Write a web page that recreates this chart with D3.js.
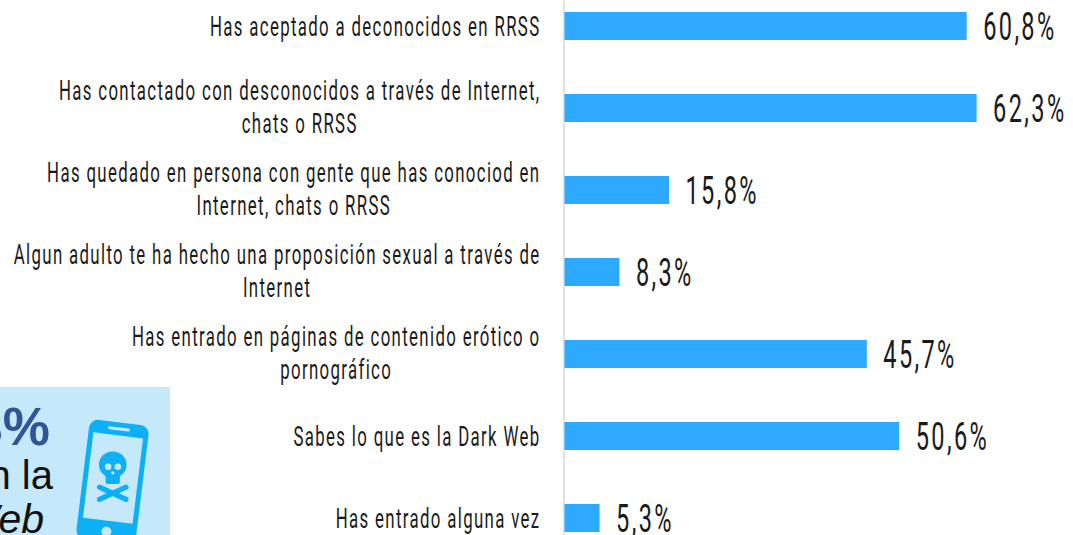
<!DOCTYPE html>
<html><head><meta charset="utf-8">
<style>html,body{margin:0;padding:0;background:#fff;overflow:hidden}svg{display:block}</style>
<script src="https://cdn.jsdelivr.net/npm/d3@7"></script></head>
<body><svg id="c" width="1073" height="535"></svg>
<script>
const categories = ["Has aceptado a deconocidos en RRSS",
 "Has contactado con desconocidos a través de Internet,|chats o RRSS",
 "Has quedado en persona con gente que has conociod en|Internet, chats o RRSS",
 "Algun adulto te ha hecho una proposición sexual a través de|Internet",
 "Has entrado en páginas de contenido erótico o|pornográfico",
 "Sabes lo que es la Dark Web",
 "Has entrado alguna vez"];
const values = [60.8,62.3,15.8,8.3,45.7,50.6,5.3];
const insetLines = ["5,3%","entró en la","Dark Web"];

const W=1073,H=535;
const svg=d3.select("#c");
const x=d3.scaleLinear().domain([0,100]).range([564.5,1226]);
const y=d3.scaleBand().domain(categories).range([-15,559]).paddingInner(54/82).paddingOuter(27/82);
const fmt=v=>v.toFixed(1).replace(".",",")+"%";
const FONT="Roboto, sans-serif";

// inset
const inset=svg.append("g");
inset.append("rect").attr("x",0).attr("y",387).attr("width",170).attr("height",150).attr("fill","#c5e9fb");
inset.append("text").attr("x",50).attr("y",445).attr("text-anchor","end").attr("font-family","Liberation Sans").attr("font-weight",700).attr("font-size",53).attr("fill","#2f5597").text(insetLines[0]);
inset.append("text").attr("x",53).attr("y",489).attr("text-anchor","end").attr("font-family","Liberation Sans").attr("font-size",40).attr("fill","#111").text(insetLines[1]);
inset.append("text").attr("x",44).attr("y",533).attr("text-anchor","end").attr("font-family","Liberation Sans").attr("font-style","italic").attr("font-size",41).attr("fill","#111").text(insetLines[2]);
// phone icon
const ph=inset.append("g").attr("transform","translate(112.5,482) rotate(7)");
ph.append("rect").attr("x",-30).attr("y",-60).attr("width",60).attr("height",120).attr("rx",9).attr("fill","#0db0f5");
ph.append("rect").attr("x",-25).attr("y",-47).attr("width",50).attr("height",86).attr("fill","#c5e9fb");
ph.append("rect").attr("x",-11).attr("y",-55).attr("width",22).attr("height",3).attr("rx",1.5).attr("fill","#c5e9fb");
ph.append("circle").attr("cx",0).attr("cy",50).attr("r",5).attr("fill","#c5e9fb");
const sk=ph.append("g").attr("transform","translate(0,-2) rotate(-7) scale(1.02)").attr("fill","#0db0f5");
sk.append("ellipse").attr("cx",0).attr("cy",-15).attr("rx",13.5).attr("ry",13);
sk.append("rect").attr("x",-7).attr("y",-6).attr("width",14).attr("height",10).attr("rx",2);
sk.append("circle").attr("cx",-4.5).attr("cy",-13).attr("r",3.2).attr("fill","#c5e9fb");
sk.append("circle").attr("cx",5).attr("cy",-13).attr("r",3.2).attr("fill","#c5e9fb");
sk.append("circle").attr("cx",0).attr("cy",-7).attr("r",1.6).attr("fill","#c5e9fb");
sk.append("line").attr("x1",-13).attr("y1",7).attr("x2",13).attr("y2",19).attr("stroke","#0db0f5").attr("stroke-width",5).attr("stroke-linecap","round");
sk.append("line").attr("x1",13).attr("y1",7).attr("x2",-13).attr("y2",19).attr("stroke","#0db0f5").attr("stroke-width",5).attr("stroke-linecap","round");

// axis
const axis=svg.append("g").attr("transform","translate(564,0)").call(d3.axisLeft(y).tickSize(0).tickFormat(""));
axis.select(".domain").attr("d",`M0,0V${H}`).attr("stroke","#d9d9d9").attr("stroke-width",1.5);

// bars
svg.append("g").selectAll("rect").data(values).join("rect")
 .attr("x",x(0)).attr("y",(d,i)=>y(categories[i])).attr("width",d=>x(d)-x(0)).attr("height",y.bandwidth()).attr("fill","#2daaff");

// condensed text helper
function cond(g,str,px,py,size,k,anchor,ls){
  return g.append("g").attr("transform",`translate(${px},${py}) scale(${k},1)`)
   .append("text").attr("font-family",FONT).attr("font-size",size).attr("font-weight",400).attr("letter-spacing",ls).attr("fill","#1a1a1a").attr("text-anchor",anchor).text(str);
}
const labG=svg.append("g");
const LK=0.6, LS=2.25;
categories.forEach((c,i)=>{
  const lines=c.split("|"), cy=y(c)+y.bandwidth()/2;
  if(lines.length===1){ cond(labG,lines[0],540.5,cy+10,28,LK,"end",LS); }
  else {
    const wNode=cond(labG,lines[0],540.5,cy-8,28,LK,"end",LS);
    const w=wNode.node().getComputedTextLength()*LK;
    cond(labG,lines[1],540.5-w/2,cy+25,28,LK,"middle",LS);
  }
});
values.forEach((v,i)=>{ cond(svg,fmt(v),x(v)+16.5,y(categories[i])+y.bandwidth()/2+14,38,0.62,"start",3.8); });
</script></body></html>
